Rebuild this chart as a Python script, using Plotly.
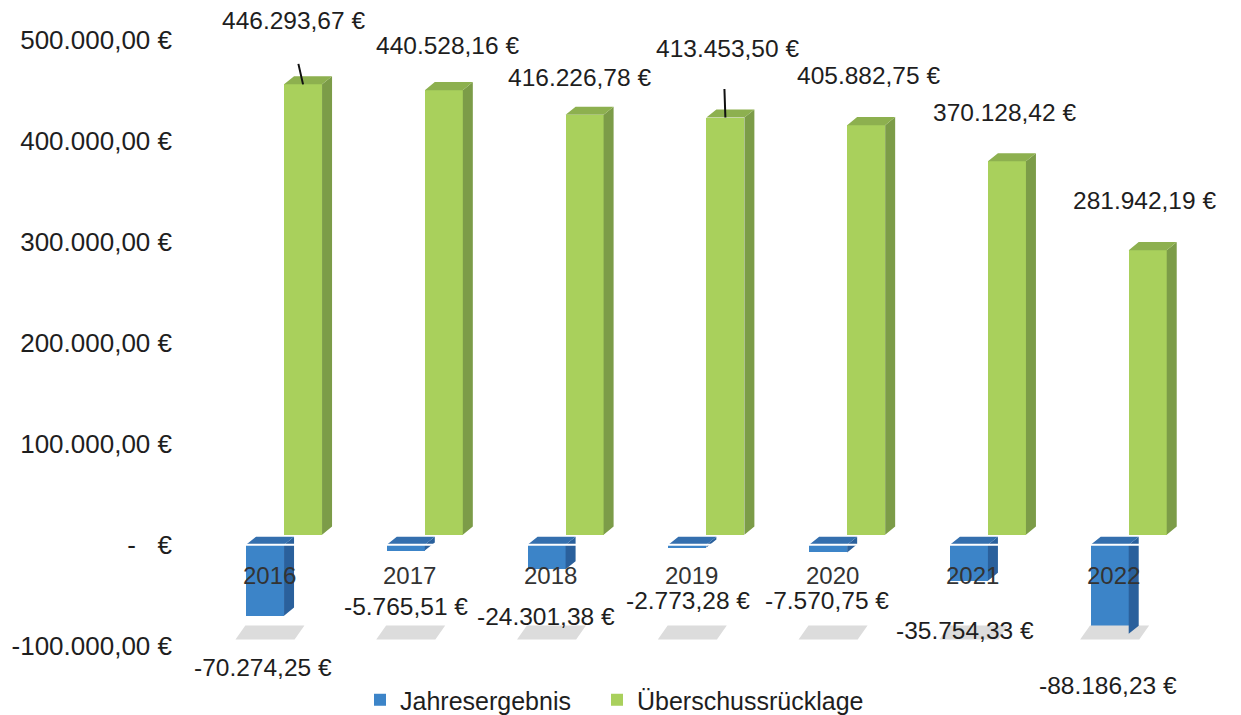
import plotly.graph_objects as go
import numpy as np

years = ["2016", "2017", "2018", "2019", "2020", "2021", "2022"]
jahresergebnis = [-70274.25, -5765.51, -24301.38, -2773.28, -7570.75, -35754.33, -88186.23]
ueberschuss = [446293.67, 440528.16, 416226.78, 413453.50, 405882.75, 370128.42, 281942.19]
tick_vals = [-100000, 0, 100000, 200000, 300000, 400000, 500000]
tick_text = ["-100.000,00 €", "-\u00a0\u00a0\u00a0€", "100.000,00 €", "200.000,00 €",
             "300.000,00 €", "400.000,00 €", "500.000,00 €"]


def eur(v):
    s = f"{abs(v):,.2f}".replace(",", "X").replace(".", ",").replace("X", ".")
    return ("-" if v < 0 else "") + s + " €"


# style / geometry parameters
BLUE = "#3C84C8"
BLUE_SIDE = "#2A609C"
BLUE_TOP = "#346FAE"
GREEN = "#A9D05C"
GREEN_SIDE = "#7C9C48"
GREEN_TOP = "#8DB04F"
W = 0.27          # bar width (category units)
DX = 0.071        # depth x (category units)
DY = 8000         # depth y (value units)
GBASE = 10000     # back row offset
GOFF = 0.27       # green bar offset
FONT = "Liberation Sans, Arial, sans-serif"
TXT = "#1e1e1e"

idx = np.arange(len(years), dtype=float)
gx = idx + GOFF

fig = go.Figure()

# floor shadows
sx, sy = [], []
for i in idx:
    sx += [i - 0.21, i + 0.21, i + 0.28, i - 0.14, i - 0.21, None]
    sy += [-94000, -94000, -80000, -80000, -94000, None]
fig.add_trace(go.Scatter(x=sx, y=sy, fill="toself", fillcolor="#DCDCDC", mode="lines",
                         line=dict(width=0), showlegend=False, hoverinfo="skip"))

# blue front bars
fig.add_trace(go.Bar(x=idx, y=jahresergebnis, width=W, marker=dict(color=BLUE, line=dict(width=0)),
                     name="Jahresergebnis", legend="legend"))


def faces(xc, vals, base):
    side_x, side_y, top_x, top_y = [], [], [], []
    for x, v in zip(xc, vals):
        x0, x1 = x - W / 2, x + W / 2
        t = base + v
        hi = max(t, base)
        side_x += [x1, x1 + DX, x1 + DX, x1, x1, None]
        side_y += [base, base + DY, t + DY, t, base, None]
        top_x += [x0, x0 + DX, x1 + DX, x1, x0, None]
        top_y += [hi, hi + DY, hi + DY, hi, hi, None]
    return side_x, side_y, top_x, top_y


bsx, bsy, btx, bty = faces(idx, jahresergebnis, 0)
fig.add_trace(go.Scatter(x=bsx, y=bsy, fill="toself", fillcolor=BLUE_SIDE, mode="lines",
                         line=dict(width=0), showlegend=False, hoverinfo="skip"))
fig.add_trace(go.Scatter(x=btx, y=bty, fill="toself", fillcolor=BLUE_TOP, mode="lines",
                         line=dict(width=0), showlegend=False, hoverinfo="skip"))

# green back bars
fig.add_trace(go.Bar(x=gx, y=ueberschuss, base=GBASE, width=W,
                     marker=dict(color=GREEN, line=dict(width=0)), name="Überschussrücklage",
                     legend="legend2"))
gsx, gsy, gtx, gty = faces(gx, ueberschuss, GBASE)
fig.add_trace(go.Scatter(x=gsx, y=gsy, fill="toself", fillcolor=GREEN_SIDE, mode="lines",
                         line=dict(width=0), showlegend=False, hoverinfo="skip"))
fig.add_trace(go.Scatter(x=gtx, y=gty, fill="toself", fillcolor=GREEN_TOP, mode="lines",
                         line=dict(width=0), showlegend=False, hoverinfo="skip"))

# zero plane highlight line
fig.add_shape(type="line", xref="paper", x0=0, x1=1, yref="y", y0=0, y1=0,
              line=dict(color="white", width=2), layer="above")

ann = []
# green labels
g_yshift = [64, 45, 37, 69, 50, 49, 50]
g_xshift = [-10, 4, -5, 2, 2, -2, -3]
for x, v, ys, xs in zip(gx, ueberschuss, g_yshift, g_xshift):
    ann.append(dict(x=x, y=v + GBASE, text=eur(v), showarrow=False, yanchor="middle",
                    yshift=ys, xshift=xs, font=dict(size=24.5, color=TXT, family=FONT)))
# blue labels
b_yshift = [-52, -56, -47, -53, -48, -50, -52]
b_xshift = [-2, 0, -1, 1, -1, -4, -2]
for x, v, ys, xs in zip(idx, jahresergebnis, b_yshift, b_xshift):
    ann.append(dict(x=x, y=v, text=eur(v), showarrow=False, yanchor="middle",
                    yshift=ys, xshift=xs, font=dict(size=24.5, color=TXT, family=FONT)))
# category labels
for x, c in zip(idx, years):
    ann.append(dict(x=x, y=0, text=c, showarrow=False, yanchor="middle", yshift=-31, xshift=4,
                    font=dict(size=24, color="#333333", family=FONT)))
# leader lines
ann.append(dict(x=gx[0], y=ueberschuss[0] + GBASE, text="", showarrow=True, arrowhead=0,
                arrowwidth=2, arrowcolor="#111111", ax=-5, ay=-22))
ann.append(dict(x=gx[3], y=ueberschuss[3] + GBASE, text="", showarrow=True, arrowhead=0,
                arrowwidth=2, arrowcolor="#111111", ax=-1, ay=-30))

legend_common = dict(orientation="h", xref="container", xanchor="left",
                     yref="container", y=0.0212, yanchor="middle",
                     font=dict(size=25, color=TXT, family=FONT), bgcolor="rgba(0,0,0,0)")

fig.update_layout(
    width=1233, height=707,
    margin=dict(l=182, r=6, t=2, b=29, autoexpand=False),
    paper_bgcolor="white", plot_bgcolor="white",
    barmode="overlay", bargap=0,
    font=dict(family=FONT, color=TXT, size=24),
    xaxis=dict(range=[-0.533, 6.89], showticklabels=False, showgrid=False, zeroline=False,
               showline=False, ticks="", automargin=False),
    yaxis=dict(range=[-140000, 530000], tickvals=tick_vals, ticktext=tick_text,
               showgrid=False, zeroline=False, showline=False, ticks="", automargin=False,
               ticklabelstandoff=17, tickfont=dict(size=26, color=TXT, family=FONT)),
    legend=dict(x=0.2855, **legend_common),
    legend2=dict(x=0.4777, **legend_common),
    annotations=ann,
    showlegend=True,
)

fig.write_html("out.html")
